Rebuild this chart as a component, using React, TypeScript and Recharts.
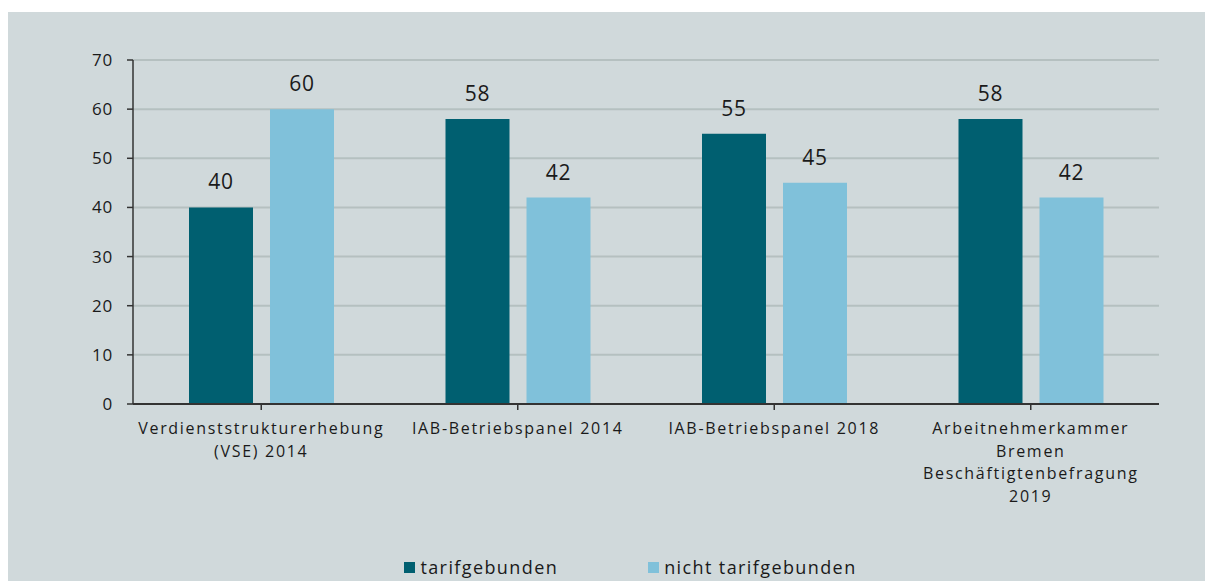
import React from "react";
import {
  Bar,
  BarChart,
  CartesianGrid,
  LabelList,
  Legend,
  XAxis,
  YAxis,
} from "recharts";

const categories = [
  "Verdienststrukturerhebung\n(VSE) 2014",
  "IAB-Betriebspanel 2014",
  "IAB-Betriebspanel 2018",
  "Arbeitnehmerkammer\nBremen\nBeschäftigtenbefragung\n2019",
];
const tarifgebunden = [40, 58, 55, 58];
const nichtTarifgebunden = [60, 42, 45, 42];
const yTicks = [0, 10, 20, 30, 40, 50, 60, 70];

const data = categories.map((name, i) => ({
  name,
  tarifgebunden: tarifgebunden[i],
  nicht: nichtTarifgebunden[i],
}));

const DARK = "#005f70";
const LIGHT = "#80c1da";
const BG = "#d0d9db";
const FONT = "'Open Sans', sans-serif";

if (typeof document !== "undefined") {
  document.documentElement.style.overflow = "hidden";
  document.body.style.overflow = "hidden";
}

function CategoryTick({ x, y, payload }: any) {
  const lines = String(payload.value).split("\n");
  return (
    <text
      x={x}
      y={y}
      textAnchor="middle"
      fill="#1a1a1a"
      fontSize={16}
      fontFamily={FONT}
      letterSpacing={1.7}
    >
      {lines.map((l, i) => (
        <tspan key={i} x={x} dy={i === 0 ? 22 : 22.5}>
          {l}
        </tspan>
      ))}
    </text>
  );
}

function LegendContent() {
  const items = [
    { label: "tarifgebunden", color: DARK },
    { label: "nicht tarifgebunden", color: LIGHT },
  ];
  return (
    <div
      style={{
        display: "flex",
        justifyContent: "center",
        gap: 90,
        fontFamily: FONT,
        fontSize: 18,
        color: "#1a1a1a",
        letterSpacing: 1.4,
        marginLeft: 94,
      }}
    >
      {items.map((it) => (
        <div key={it.label} style={{ display: "flex", alignItems: "center" }}>
          <span
            style={{
              width: 11,
              height: 11,
              background: it.color,
              display: "inline-block",
              marginRight: 5,
            }}
          />
          {it.label}
        </div>
      ))}
    </div>
  );
}

export default function App() {
  return (
    <div
      style={{
        position: "fixed",
        left: 8,
        top: 12,
        right: 0,
        bottom: 0,
        background: BG,
      }}
    >
      <BarChart
        width={1197}
        height={565}
        data={data}
        margin={{ top: 48, right: 46, left: 0, bottom: 0 }}
        barCategoryGap={56}
        barGap={17}
      >
        <CartesianGrid vertical={false} stroke="#b5c0c0" strokeWidth={2} />
        <XAxis
          dataKey="name"
          tick={<CategoryTick />}
          tickLine={{ stroke: "#333", strokeWidth: 1.5 }}
          axisLine={{ stroke: "#333", strokeWidth: 2 }}
          interval={0}
          height={149}
          tickSize={6}
        />
        <YAxis
          domain={[0, 70]}
          ticks={yTicks}
          width={125}
          tickSize={6}
          tickMargin={14}
          tick={{ fill: "#1a1a1a", fontSize: 17, fontFamily: FONT, letterSpacing: 0.8 }}
          tickLine={{ stroke: "#333", strokeWidth: 1.5 }}
          axisLine={{ stroke: "#333", strokeWidth: 1.5 }}
        />
        <Legend
          content={<LegendContent />}
          verticalAlign="bottom"
          wrapperStyle={{ bottom: -2 }}
        />
        <Bar dataKey="tarifgebunden" fill={DARK} isAnimationActive={false}>
          <LabelList
            dataKey="tarifgebunden"
            position="top"
            offset={18}
            fill="#1a1a1a"
            fontSize={21}
            fontFamily={FONT}
            letterSpacing={0.8}
          />
        </Bar>
        <Bar dataKey="nicht" fill={LIGHT} isAnimationActive={false}>
          <LabelList
            dataKey="nicht"
            position="top"
            offset={18}
            fill="#1a1a1a"
            fontSize={21}
            fontFamily={FONT}
            letterSpacing={0.8}
          />
        </Bar>
      </BarChart>
    </div>
  );
}
